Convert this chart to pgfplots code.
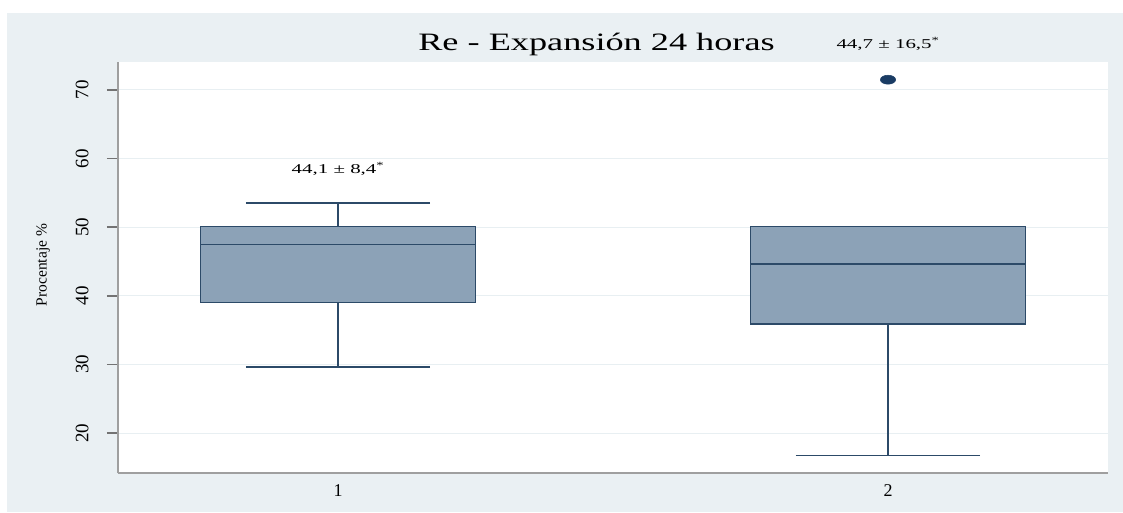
\documentclass[border=0pt]{standalone}
\usepackage{fontspec}
\setmainfont{Liberation Serif}
\newfontfamily\wideserif[FakeStretch=1.45]{Liberation Serif}
\newfontfamily\annoserif[FakeStretch=1.55]{Liberation Serif}
\usepackage{pgfplots}
\pgfplotsset{compat=1.18}
\usepgfplotslibrary{statistics}
\definecolor{bgc}{RGB}{234,240,243}
\definecolor{boxfill}{RGB}{140,162,183}
\definecolor{navyc}{RGB}{44,74,104}
\definecolor{outc}{RGB}{26,60,100}
\definecolor{gridc}{RGB}{232,239,242}
\begin{document}
\begin{tikzpicture}
\useasboundingbox (0pt,0pt) rectangle (1123pt,-512pt);
\fill[bgc] (7pt,-13pt) rectangle (1123pt,-512pt);
\begin{axis}[
  at={(118pt,-473pt)}, anchor=south west,
  scale only axis, width=990pt, height=411pt,
  xmin=0.6, xmax=2.4, ymin=14.17, ymax=74.08,
  axis background/.style={fill=white},
  axis lines*=left,
  axis line style={draw=gray!75, line width=1.8pt, -},
  xtick={1,2}, xticklabels={1,2},
  x tick style={draw=none},
  ytick={20,30,40,50,60,70},
  tick align=outside, major tick length=11pt,
  y tick style={draw=black!55, line width=1.5pt},
  ymajorgrids, grid style={gridc, line width=1pt},
  /pgf/number format/assume math mode=true,
  yticklabel style={rotate=90, anchor=south, font=\fontsize{19}{19}\selectfont},
  yticklabel shift=15pt,
  xticklabel style={font=\fontsize{18}{18}\selectfont},
  xticklabel shift=-3pt,
  clip=false,
  boxplot/draw direction=y,
]
\addplot[boxplot prepared={draw position=1, median=47.5, upper quartile=50.1,
   lower quartile=39.0, upper whisker=53.5, lower whisker=29.6,
   box extend=0.5, whisker extend=0.335},
   fill=boxfill, draw=navyc, line width=1.6pt] coordinates {};
\addplot[boxplot prepared={draw position=2, median=44.6, upper quartile=50.1,
   lower quartile=35.9, upper whisker=50.1, lower whisker=16.7,
   box extend=0.5, whisker extend=0.335},
   fill=boxfill, draw=navyc, line width=1.6pt,
   mark=*, mark size=4.5pt, mark options={fill=outc, draw=outc, xscale=1.7, line width=0.5pt}]
   table[row sep=\\, y index=0] {y\\ 71.5\\};
\node[anchor=base, font=\annoserif\fontsize{13.5}{13.5}\selectfont] at (axis cs:1,57.8) {44,1 ± 8,4\textsuperscript{*}};
\node[anchor=base, font=\annoserif\fontsize{13.5}{13.5}\selectfont] at (axis cs:2,76.0) {44,7 ± 16,5\textsuperscript{*}};
\end{axis}
\node[anchor=base, font=\wideserif\fontsize{25}{25}\selectfont] at (596.5pt,-50pt) {Re - Expansión 24 horas};
\node[rotate=90, font=\fontsize{15.5}{15.5}\selectfont] at (43pt,-265pt) {Procentaje \%};
\end{tikzpicture}
\end{document}
